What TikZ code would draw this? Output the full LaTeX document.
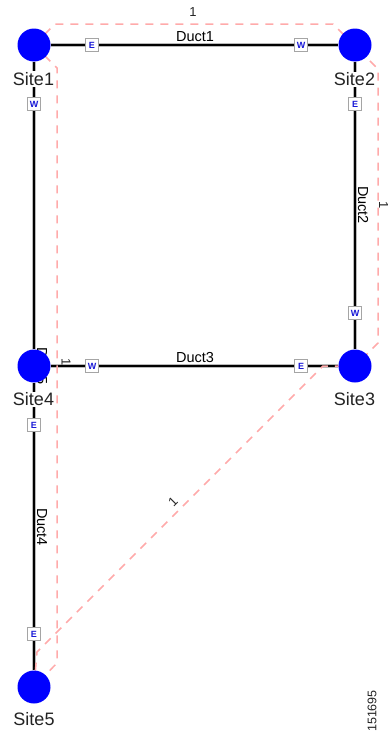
\documentclass[tikz,border=0pt]{standalone}
\usepackage{fontspec}
\setmainfont{Liberation Sans}
\definecolor{siteblue}{RGB}{0,0,255}
\definecolor{pathpink}{RGB}{255,170,170}
\definecolor{halo}{RGB}{185,185,185}
\definecolor{txt}{RGB}{35,35,35}
\definecolor{mkborder}{RGB}{165,165,165}
\definecolor{mkletter}{RGB}{25,25,215}
\pgfdeclarelayer{bg}
\pgfsetlayers{bg,main}
\tikzset{
  site/.style={circle, fill=siteblue, minimum size=33pt, inner sep=0pt},
  sitelabel/.style={fill=white, inner sep=1pt, font=\fontsize{18}{18}\selectfont, text=txt},
  duct/.style={line width=1.4pt, black, preaction={draw=halo, line width=3.4pt}},
  ductlabel/.style={inner sep=0pt, font=\fontsize{14.5}{14.5}\selectfont, text=black},
  route/.style={pathpink, line width=1.5pt, dash pattern=on 8pt off 7pt},
  routelabel/.style={inner sep=0pt, font=\fontsize{13}{13}\selectfont, text=txt},
  endmark/.style={draw=mkborder, line width=1.3pt, fill=white, minimum size=13pt,
    inner sep=0pt, font=\bfseries\fontsize{9}{9}\selectfont, text=mkletter},
}
\begin{document}
\begin{tikzpicture}[x=1pt, y=-1pt]
\useasboundingbox (0,0) rectangle (390,744);
% sites
\node[site] (s1) at (34,45) {};
\node[site] (s2) at (355,45) {};
\node[site] (s3) at (355,366) {};
\node[site] (s4) at (34,366) {};
\node[site] (s5) at (34,687) {};
% route bend points
\coordinate (c1) at (55,24);
\coordinate (c2) at (333,24);
\coordinate (c3) at (378,69);
\coordinate (c4) at (378,343);
\coordinate (c5) at (323,366);
\coordinate (c6) at (37,652);
\coordinate (c7) at (57,68);
\coordinate (c8) at (57,663);
\begin{pgfonlayer}{bg}
  \draw[duct] (s1) -- (s2);
  \draw[duct] (s2) -- (s3);
  \draw[duct] (s4) -- (s3);
  \draw[duct] (s1) -- (s4);
  \draw[duct] (s4) -- (s5);
  \node[ductlabel] (d1) at (195,37) {Duct1};
  \node[ductlabel, rotate=-90] (d2) at (363,205) {Duct2};
  \node[ductlabel] (d3) at (195,358) {Duct3};
  \node[ductlabel, rotate=-90] (d4) at (42,527) {Duct4};
  \node[ductlabel, rotate=-90] (d5) at (42,366) {Duct5};
  \draw[route] (s1.center) -- (c1) -- (c2) -- (c3) -- (c4) -- (s3.center)
     -- (c5) -- (c6) -- (s5.center);
  \draw[route] (s1.center) -- (c7) -- (c8) -- (s5.center);
  \node[routelabel] (r1) at (193,12) {1};
  \node[routelabel, rotate=-90] (r2) at (383.5,205) {1};
  \node[routelabel, rotate=45] (r3) at (173,502) {1};
  \node[routelabel, rotate=-90] (r4) at (66,362) {1};
\end{pgfonlayer}
% end markers
\node[endmark] (m1) at (92,45) {E};
\node[endmark] (m2) at (301,45) {W};
\node[endmark] (m3) at (355,104) {E};
\node[endmark] (m4) at (355,313) {W};
\node[endmark] (m5) at (34,104) {W};
\node[endmark] (m6) at (92,366) {W};
\node[endmark] (m7) at (301,366) {E};
\node[endmark] (m8) at (34,425) {E};
\node[endmark] (m9) at (34,634) {E};
% site labels
\node[sitelabel] (l1) at (33.5,79) {Site1};
\node[sitelabel] (l2) at (354.5,79.5) {Site2};
\node[sitelabel] (l3) at (354.5,399.5) {Site3};
\node[sitelabel] (l4) at (33.5,399.5) {Site4};
\node[sitelabel] (l5) at (34,719.5) {Site5};
\node[routelabel, rotate=90, font=\fontsize{12.5}{12.5}\selectfont] (id) at (372,711) {151695};
\end{tikzpicture}
\end{document}
